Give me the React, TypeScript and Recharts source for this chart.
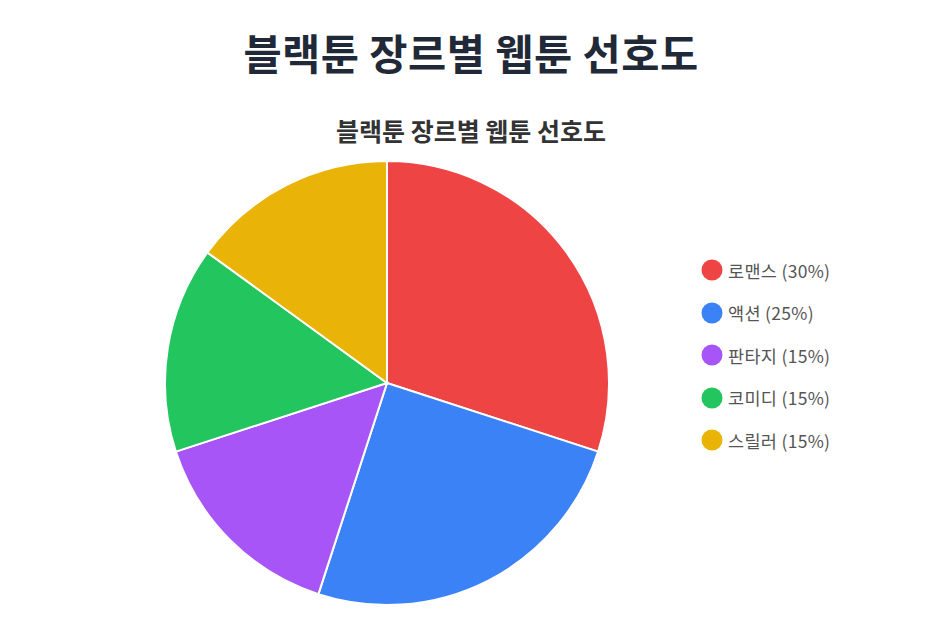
import { PieChart, Pie, Cell, Legend } from 'recharts';

const genres = ['로맨스', '액션', '판타지', '코미디', '스릴러'];
const shares = [30, 25, 15, 15, 15];
const colors = ['#ef4444', '#3b82f6', '#a855f7', '#22c55e', '#eab308'];

const data = genres.map((name, i) => ({ name, value: shares[i] }));

const FONT = '"Noto Sans CJK KR", "Noto Sans", sans-serif';

const LegendList = () => (
  <ul style={{ listStyle: 'none', margin: 0, padding: 0 }}>
    {data.map((d, i) => (
      <li
        key={d.name}
        style={{ display: 'flex', alignItems: 'center', height: 42.5 }}
      >
        <svg width={22} height={22} style={{ marginRight: 5 }}>
          <circle cx={11} cy={11} r={10.5} fill={colors[i]} />
        </svg>
        <span style={{ fontSize: 17.5, color: '#555', letterSpacing: 0.3 }}>
          {d.name} ({d.value}%)
        </span>
      </li>
    ))}
  </ul>
);

const App = () => {
  return (
    <div
      style={{
        position: 'absolute',
        left: 0,
        top: 0,
        width: 942,
        height: 641,
        background: '#fff',
        fontFamily: FONT,
      }}
    >
      <div
        style={{
          position: 'absolute',
          top: 22,
          left: 0,
          width: 942,
          textAlign: 'center',
          fontSize: 41.5,
          fontWeight: 700,
          color: '#1f2937',
          lineHeight: '60px',
          letterSpacing: 0.5,
        }}
      >
        블랙툰 장르별 웹툰 선호도
      </div>
      <div
        style={{
          position: 'absolute',
          top: 112,
          left: 0,
          width: 942,
          textAlign: 'center',
          fontSize: 25,
          fontWeight: 700,
          color: '#333',
          lineHeight: '36px',
        }}
      >
        블랙툰 장르별 웹툰 선호도
      </div>
      <div style={{ position: 'absolute', left: 0, top: 0 }}>
        <PieChart
          width={942}
          height={641}
          margin={{ top: 0, right: 0, bottom: 0, left: 0 }}
        >
          <Pie
            data={data}
            dataKey="value"
            nameKey="name"
            cx={387}
            cy={383}
            outerRadius={222}
            startAngle={90}
            endAngle={-270}
            stroke="#fff"
            strokeWidth={2}
            isAnimationActive={false}
          >
            {data.map((d, i) => (
              <Cell key={d.name} fill={colors[i]} />
            ))}
          </Pie>
          <Legend
            layout="vertical"
            content={<LegendList />}
            wrapperStyle={{ left: 701, top: 249, width: 220 }}
          />
        </PieChart>
      </div>
    </div>
  );
};

export default App;
